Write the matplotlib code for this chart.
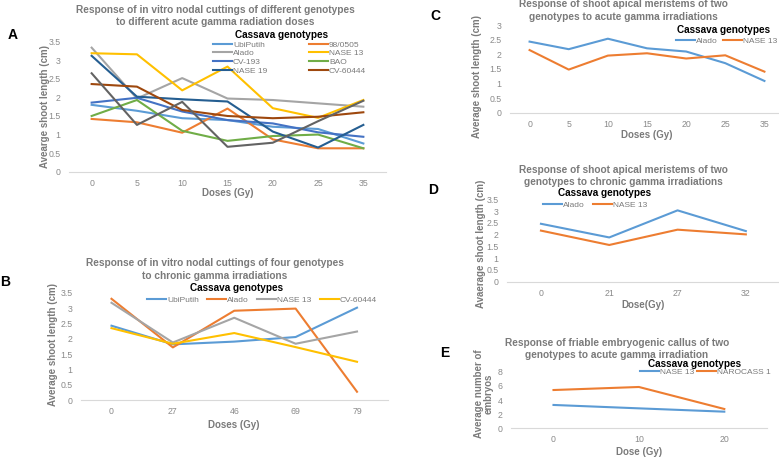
import matplotlib.pyplot as plt

plt.rcParams['font.family'] = ['Liberation Sans', 'DejaVu Sans']

W, H = 779, 457
GREY = '#7a7a7a'
TICK = '#8a8a8a'
AXIS = '#d9d9d9'

# Excel office palette
C_BLUE, C_ORANGE, C_GREY, C_GOLD = '#5B9BD5', '#ED7D31', '#A5A5A5', '#FFC000'
C_BLUE2, C_GREEN, C_NAVY, C_BROWN, C_DGREY = '#4472C4', '#70AD47', '#255E91', '#9E480E', '#636363'

# ---- Panel A: acute irradiation of nodal cuttings
doses_a = ['0', '5', '10', '15', '20', '25', '35']
ubiputih_a = [1.80, 1.64, 1.44, 1.39, 1.21, 1.15, 0.76]
p98_0505_a = [1.42, 1.33, 1.05, 1.70, 0.87, 0.63, 0.63]
alado_a = [3.34, 1.97, 2.52, 1.97, 1.93, 1.84, 1.75]
nase13_a = [3.19, 3.16, 2.19, 2.83, 1.71, 1.45, 1.93]
cv193_a = [1.86, 1.99, 1.62, 1.39, 1.30, 1.06, 0.94]
bao_a = [1.50, 1.93, 1.10, 0.83, 0.96, 1.00, 0.63]
nase19_a = [3.12, 2.02, 1.95, 1.89, 1.08, 0.65, 1.26]
cv60444_a = [2.36, 2.29, 1.66, 1.50, 1.44, 1.48, 1.60]
unlisted_a = [2.65, 1.26, 1.88, 0.67, 0.78, 1.36, 1.91]

# ---- Panel B: chronic irradiation of nodal cuttings
doses_b = ['0', '27', '46', '69', '79']
ubiputih_b = [2.43, 1.82, 1.91, 2.06, 3.02]
alado_b = [3.31, 1.72, 2.92, 2.99, 0.27]
nase13_b = [3.18, 1.88, 2.69, 1.84, 2.24]
cv60444_b = [2.35, 1.84, 2.19, 1.73, 1.25]

# ---- Panel C: acute irradiation of shoot apical meristems
doses_c = ['0', '5', '10', '15', '20', '25', '35']
alado_c = [2.44, 2.18, 2.54, 2.21, 2.10, 1.70, 1.09]
nase13_c = [2.15, 1.48, 1.96, 2.04, 1.86, 1.97, 1.41]

# ---- Panel D: chronic irradiation of shoot apical meristems
doses_d = ['0', '21', '27', '32']
alado_d = [2.46, 1.88, 3.03, 2.15]
nase13_d = [2.17, 1.56, 2.21, 2.01]

# ---- Panel E: friable embryogenic callus
doses_e = ['0', '10', '20']
nase13_e = [3.30, 2.82, 2.35]
narocass1_e = [5.41, 5.84, 2.73]

fig = plt.figure(figsize=(W / 100, H / 100), dpi=100)


def px(x, y):
    return x / W, 1 - y / H


def make_axes(left, right, bottom, top):
    return fig.add_axes([left / W, 1 - bottom / H, (right - left) / W, (bottom - top) / H])


def style(ax, box, cats, ymax, ystep, xlabel, ylabel, xlab_y, ylab_x, ylab_y):
    # xlab_y / ylab_x are the centres of the label texts, in pixels
    left, right, bottom, top = box
    ax.set_xlim(-0.5, len(cats) - 0.5)
    ax.set_ylim(0, ymax)
    ax.set_xticks(range(len(cats)))
    ax.set_xticklabels(cats)
    yt = [i * ystep for i in range(int(round(ymax / ystep)) + 1)]
    ax.set_yticks(yt)
    ax.set_yticklabels([f'{v:g}' for v in yt])
    for s in ['top', 'right', 'left']:
        ax.spines[s].set_visible(False)
    ax.spines['bottom'].set_color(AXIS)
    ax.spines['bottom'].set_linewidth(0.8)
    ax.tick_params(length=0, labelsize=6.3, labelcolor=TICK)
    ax.tick_params(axis='y', pad=6)
    ax.tick_params(axis='x', pad=5)
    ax.set_facecolor('none')
    ax.set_xlabel(xlabel, fontsize=7, fontweight='bold', color=GREY)
    ax.set_ylabel(ylabel, fontsize=7, fontweight='bold', color=GREY, linespacing=1.0)
    w, h = right - left, bottom - top
    nlines = ylabel.count('\n') + 1
    ax.xaxis.set_label_coords(0.5, (bottom - (xlab_y - 5)) / h)
    ax.yaxis.set_label_coords((ylab_x + 5.5 * nlines - left) / w, (bottom - ylab_y) / h)
    for ln in ax.lines:
        ln.set_clip_on(False)


def title(x, y, text):
    fig.text(*px(x, y), text, ha='center', va='center', fontsize=7.3,
             fontweight='bold', color=GREY, linespacing=1.3)


def letter(x, y, text):
    fig.text(*px(x, y), text, ha='left', va='center', fontsize=10, fontweight='bold')


def legend(ax, handles, labels, x, y, ncol, colsp, tx, ty):
    # (x, y): left end of first handle / centre of first row; (tx, ty): legend title centre
    lg = ax.legend(handles, labels, ncol=ncol,
                   loc='upper left', bbox_to_anchor=px(x, y - 4.8), bbox_transform=fig.transFigure,
                   frameon=False, fontsize=6, borderpad=0,
                   handlelength=2.3, handletextpad=0.1, columnspacing=colsp,
                   labelspacing=0.1, borderaxespad=0)
    for t in lg.get_texts():
        t.set_color(GREY)
    fig.text(*px(tx, ty), 'Cassava genotypes', ha='center', va='center',
             fontsize=7.2, fontweight='bold', color='black')
    return lg


lw = 1.5

# ---------------- A
box_a = (69, 386, 171.7, 41.7)
ax = make_axes(*box_a)
xa = range(len(doses_a))
h_ubi, = ax.plot(xa, ubiputih_a, color=C_BLUE, lw=lw)
h_98, = ax.plot(xa, p98_0505_a, color=C_ORANGE, lw=lw)
h_al, = ax.plot(xa, alado_a, color=C_GREY, lw=lw)
h_n13, = ax.plot(xa, nase13_a, color=C_GOLD, lw=lw)
h_cv1, = ax.plot(xa, cv193_a, color=C_BLUE2, lw=lw)
h_bao, = ax.plot(xa, bao_a, color=C_GREEN, lw=lw)
h_n19, = ax.plot(xa, nase19_a, color=C_NAVY, lw=lw)
h_cv6, = ax.plot(xa, cv60444_a, color=C_BROWN, lw=lw)
ax.plot(xa, unlisted_a, color=C_DGREY, lw=lw)
style(ax, box_a, doses_a, 3.5, 0.5, 'Doses (Gy)',
      'Avearge shoot length (cm)', 193, 44, 106)
legend(ax, [h_ubi, h_al, h_cv1, h_n19, h_98, h_n13, h_bao, h_cv6],
       ['UbiPutih', 'Alado', 'CV-193', 'NASE 19', '98/0505', 'NASE 13', 'BAO', 'CV-60444'],
       213, 45.7, 2, 5.0, 281.5, 35)
title(215, 16, 'Response of in vitro nodal cuttings of different genotypes\n'
      'to different acute gamma radiation doses')
letter(8, 35, 'A')

# ---------------- B
box_b = (80.8, 387.7, 400, 293)
ax = make_axes(*box_b)
xb = range(len(doses_b))
hb = [ax.plot(xb, d, color=c, lw=lw)[0] for d, c in
      [(ubiputih_b, C_BLUE), (alado_b, C_ORANGE), (nase13_b, C_GREY), (cv60444_b, C_GOLD)]]
style(ax, box_b, doses_b, 3.5, 0.5, 'Doses (Gy)',
      'Average shoot length (cm)', 424.5, 53, 344)
legend(ax, hb, ['UbiPutih', 'Alado', 'NASE 13', 'CV-60444'], 147, 301, 4, 1.0, 236.5, 288)
title(215, 269.5, 'Response of in vitro nodal cuttings of four genotypes\n'
      'to chronic gamma irradiations')
letter(0, 282, 'B')

# ---------------- C
box_c = (510, 784, 112.7, 25.3)
ax = make_axes(*box_c)
xc = range(len(doses_c))
hc = [ax.plot(xc, d, color=c, lw=lw)[0] for d, c in [(alado_c, C_BLUE), (nase13_c, C_ORANGE)]]
style(ax, box_c, doses_c, 3, 0.5, 'Doses (Gy)',
      'Average shoot length (cm)', 135, 477, 76)
legend(ax, hc, ['Alado', 'NASE 13'], 676, 42, 2, 0.6, 723.5, 30)
title(623, 10.5, 'Response of shoot apical meristems of two\n'
      'genotypes to acute gamma irradiations')
letter(430, 16, 'C')

# ---------------- D
box_d = (506.8, 780, 281.7, 199.3)
ax = make_axes(*box_d)
xd = range(len(doses_d))
hd = [ax.plot(xd, d, color=c, lw=lw)[0] for d, c in [(alado_d, C_BLUE), (nase13_d, C_ORANGE)]]
style(ax, box_d, doses_d, 3.5, 0.5, 'Dose(Gy)',
      'Avaerage shoot length (cm)', 305, 480, 244)
legend(ax, hd, ['Alado', 'NASE 13'], 543, 206, 2, 1.0, 604.5, 193)
title(623, 176, 'Response of shoot apical meristems of two\n'
      'genotypes to chronic gamma irradiations')
letter(428, 190, 'D')

# ---------------- E
box_e = (510.8, 767, 428.3, 371.7)
ax = make_axes(*box_e)
xe = range(len(doses_e))
he = [ax.plot(xe, d, color=c, lw=lw)[0] for d, c in [(nase13_e, C_BLUE), (narocass1_e, C_ORANGE)]]
style(ax, box_e, doses_e, 8, 2, 'Dose (Gy)',
      'Average number of\nembryos', 452, 483, 394)
legend(ax, he, ['NASE 13', 'NAROCASS 1'], 640, 373, 2, 0.3, 694.5, 364)
title(617, 349, 'Response of friable embryogenic callus of two\n'
      'genotypes to acute gamma irradiation')
letter(440, 353, 'E')

fig.savefig('out.png', dpi=100)
